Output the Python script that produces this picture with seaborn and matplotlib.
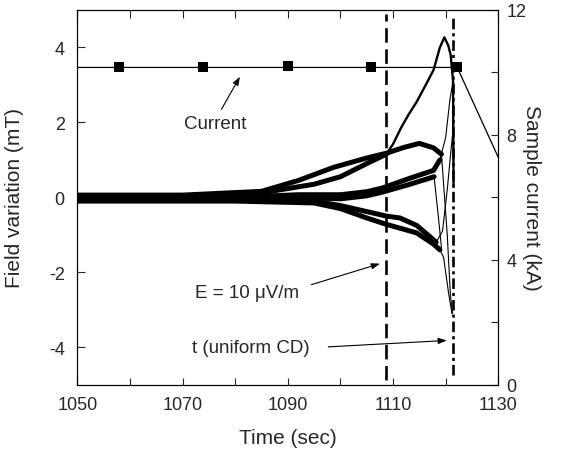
import matplotlib
matplotlib.use("Agg")
import matplotlib.pyplot as plt
import seaborn as sns
from matplotlib.ticker import FixedLocator, NullFormatter

# current trace (kA, right axis)
CURRENT_T = [1050, 1122.2, 1130]
CURRENT_KA = [10.16, 10.16, 7.28]
MARKER_T = [1058.0, 1073.9, 1090.1, 1105.9, 1122.2]
MARKER_KA = [10.16, 10.16, 10.2, 10.16, 10.16]

# field traces (mT, left axis): noisy part and fast tail after quench onset
T_A = [1050, 1070, 1085, 1095, 1100, 1105, 1108.7]
V_A = [0.02, 0.04, 0.12, 0.35, 0.55, 0.9, 1.15]
T_A_TAIL = [1108.7, 1110, 1111.5, 1113, 1114.5, 1116.4, 1117.7, 1118.9, 1119.75, 1120.5,
            1120.95, 1121.4, 1121.5]
V_A_TAIL = [1.15, 1.42, 1.85, 2.22, 2.55, 3.05, 3.4, 4.0, 4.27, 4.05, 3.8, 3.1, 0.3]

T_B = [1050, 1070, 1085, 1092, 1098.7, 1105, 1108.8, 1112, 1115, 1117.7, 1119.2]
V_B = [0.06, 0.06, 0.16, 0.45, 0.8, 1.05, 1.18, 1.33, 1.44, 1.32, 1.15]
T_B_TAIL = [1119.2, 1120.3, 1120.9, 1121.3]
V_B_TAIL = [1.15, -1.0, -2.6, -3.1]

T_C = [1050, 1080, 1092, 1100, 1105, 1108, 1113, 1117.7, 1118.9]
V_C = [-0.04, 0.0, 0.07, 0.07, 0.15, 0.25, 0.5, 0.72, 1.0]
T_C_TAIL = [1118.9, 1120.0, 1120.8, 1121.4]
V_C_TAIL = [1.0, 1.6, 2.6, 3.1]

T_D = [1050, 1080, 1092, 1100, 1105, 1108, 1113, 1117.8]
V_D = [0.0, 0.02, 0.0, -0.04, 0.04, 0.14, 0.34, 0.55]
T_D_TAIL = [1117.8, 1118.6, 1119.2]
V_D_TAIL = [0.55, -0.5, -1.35]

T_E = [1050, 1080, 1095, 1100, 1105, 1108.7, 1112, 1114.5, 1117.7, 1118.9]
V_E = [-0.1, -0.1, -0.15, -0.3, -0.55, -0.72, -0.85, -0.95, -1.25, -1.4]
T_E_TAIL = [1118.9, 1119.6, 1120.6, 1121.2]
V_E_TAIL = [-1.4, -1.6, -2.6, -3.1]

T_F = [1050, 1080, 1095, 1100, 1105, 1108.7, 1111.3, 1114.5, 1117, 1118.2]
V_F = [-0.05, -0.05, -0.1, -0.22, -0.38, -0.5, -0.55, -0.75, -1.05, -1.2]
T_F_TAIL = [1118.2, 1119.4, 1120.3, 1120.9, 1121.5]
V_F_TAIL = [-1.2, -0.9, 0.2, 1.1, 1.95]

T_E10 = 1108.6
T_UNIFORM = 1121.45

X_MAJOR = [1050, 1070, 1090, 1110, 1130]
X_MINOR = [1060, 1080, 1100, 1120]
Y_FIELD_TICKS = [-4, -2, 0, 2, 4]
Y_CURRENT_TICKS = [0, 4, 8, 12]
Y_CURRENT_MINOR = [2, 6, 10]


def main() -> None:
    sns.set_style("ticks")
    plt.rcParams["font.family"] = ["Liberation Sans", "DejaVu Sans"]
    plt.rcParams["axes.unicode_minus"] = False
    plt.rcParams["xtick.direction"] = "in"
    plt.rcParams["ytick.direction"] = "in"

    fig = plt.figure(figsize=(5.7, 4.52), dpi=100)
    ax = fig.add_axes([0.1356, 0.1467, 0.7386, 0.829])
    ax2 = ax.twinx()

    noisy = [(T_A, V_A), (T_B, V_B), (T_C, V_C), (T_D, V_D), (T_E, V_E), (T_F, V_F)]
    tails = [(T_A_TAIL, V_A_TAIL), (T_B_TAIL, V_B_TAIL), (T_C_TAIL, V_C_TAIL),
             (T_D_TAIL, V_D_TAIL), (T_E_TAIL, V_E_TAIL), (T_F_TAIL, V_F_TAIL)]
    for t, v in noisy:
        sns.lineplot(x=t, y=v, ax=ax, color="black", lw=3.6, sort=False)
    for i, (t, v) in enumerate(tails):
        sns.lineplot(x=t, y=v, ax=ax, color="black", lw=1.7 if i == 0 else 0.8, sort=False)

    ax.axvline(T_E10, ymin=0.012, ymax=0.988, color="black", lw=1.9, ls=(0, (5.5, 2.5)))
    ax.axvline(T_UNIFORM, ymin=0.025, ymax=0.98, color="black", lw=1.9, ls=(0, (4, 1.5, 1.2, 1.5)))

    sns.lineplot(x=CURRENT_T, y=CURRENT_KA, ax=ax2, color="black", lw=0.9)
    sns.scatterplot(x=MARKER_T, y=MARKER_KA, ax=ax2, color="black", marker="s", s=52,
                    edgecolor="black", linewidth=0)

    ax.set_xlim(1050, 1130)
    ax.set_ylim(-5, 5)
    ax2.set_ylim(0, 12)
    ax.xaxis.set_major_locator(FixedLocator(X_MAJOR))
    ax.xaxis.set_minor_locator(FixedLocator(X_MINOR))
    ax.yaxis.set_major_locator(FixedLocator(Y_FIELD_TICKS))
    ax.yaxis.set_minor_locator(plt.NullLocator())
    ax2.yaxis.set_major_locator(FixedLocator(Y_CURRENT_TICKS))
    ax2.yaxis.set_minor_locator(FixedLocator(Y_CURRENT_MINOR))
    ax2.yaxis.set_minor_formatter(NullFormatter())

    ax.tick_params(axis="x", which="both", top=True, length=5.4, width=0.8, labelsize=13, pad=8)
    ax.tick_params(axis="y", which="both", left=True, right=False, length=5.4, width=0.8,
                   labelsize=13, pad=9)
    ax2.tick_params(axis="y", which="both", length=5.4, width=0.8, labelsize=13, pad=6)
    for a in (ax, ax2):
        for sp in a.spines.values():
            sp.set_linewidth(0.8)
            sp.set_color("black")

    ax.set_xlabel("Time (sec)", fontsize=15, labelpad=11)
    ax.set_ylabel("Field variation (mT)", fontsize=15)
    ax.yaxis.set_label_coords(-0.126, 0.5)
    ax2.set_ylabel("Sample current (kA)", fontsize=15, rotation=270, labelpad=10)

    arrow = dict(arrowstyle="-|>,head_length=0.5,head_width=0.18", color="black", lw=0.8,
                 shrinkA=0, shrinkB=0)
    ax.annotate("", xy=(1080.9, 3.22), xytext=(1077.4, 2.35), arrowprops=arrow)
    ax.text(1076.2, 1.98, "Current", fontsize=13.5, ha="center", va="center")
    ax.annotate("", xy=(1107.5, -1.77), xytext=(1094.5, -2.33), arrowprops=arrow)
    ax.text(1082.2, -2.55, "E = 10 \u03bcV/m", fontsize=13.5, ha="center", va="center")
    ax.annotate("", xy=(1120.2, -3.82), xytext=(1097.7, -3.99), arrowprops=arrow)
    ax.text(1083.0, -4.0, "t (uniform CD)", fontsize=13.5, ha="center", va="center")

    fig.savefig("out.png", dpi=100)
    plt.close(fig)


if __name__ == "__main__":
    main()
